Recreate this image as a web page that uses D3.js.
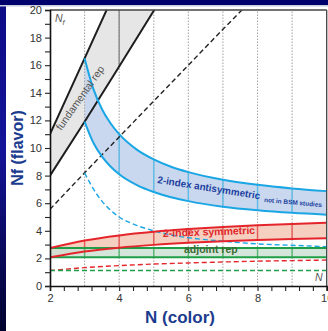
<!DOCTYPE html>
<html><head><meta charset="utf-8">
<script src="https://cdn.jsdelivr.net/npm/d3@7"></script>
<style>html,body{margin:0;padding:0;background:#fff;}svg{display:block;}</style>
</head><body>
<svg id="c" width="328" height="331"></svg>
<script>
// ---- data ----
const gridN = [3, 4, 5, 6, 7, 8, 9];
const xTickLabels = [2, 4, 6, 8, 10];
const yTickLabels = [0, 2, 4, 6, 8, 10, 12, 14, 16, 18, 20];

const fundN = [2, 3, 4, 5, 6];
const fundUpper = [11, 16.5, 22, 27.5, 33];
const fundLower = [8.0, 11.9, 15.9, 19.95, 24];
const fundDashN = [2, 3, 4, 5, 6, 7, 7.55];
const fundDash = [5.56, 8.2, 10.8, 13.4, 16.0, 18.6, 20.0];

const antiN = [3, 3.25, 3.5, 3.75, 4, 4.5, 5, 5.5, 6, 7, 8, 9, 10];
const antiUpper = [16.5, 14.3, 12.83, 11.79, 11, 9.9, 9.17, 8.64, 8.25, 7.7, 7.33, 7.07, 6.875];
const antiLower = [11.91, 10.4, 9.39, 8.66, 8.1, 7.33, 6.81, 6.43, 6.15, 5.75, 5.49, 5.3, 5.16];
const antiDash = [8.2, 7.05, 6.15, 5.5, 5.0, 4.4, 4.0, 3.7, 3.5, 3.25, 3.05, 2.95, 2.85];

const symN = [2, 3, 4, 5, 6, 7, 8, 9, 10];
const symUpper = [2.75, 3.3, 3.667, 3.93, 4.125, 4.28, 4.4, 4.5, 4.583];
const symLower = [2.075, 2.5, 2.78, 2.98, 3.13, 3.24, 3.33, 3.41, 3.47];
const symDash = [1.12, 1.33, 1.48, 1.59, 1.67, 1.74, 1.8, 1.84, 1.88];

const adjN = [2, 10];
const adjUpper = [2.75, 2.75];
const adjLower = [2.075, 2.075];
const adjDash = [1.12, 1.12];

// ---- drawing ----
const svg = d3.select("#c");
const W = 328, H = 331;
const defs = svg.append("defs");
const lg = defs.append("linearGradient").attr("id", "bgL").attr("x1", 0).attr("y1", 0).attr("x2", 0).attr("y2", 1);
lg.append("stop").attr("offset", "0%").attr("stop-color", "#0c0c86");
lg.append("stop").attr("offset", "45%").attr("stop-color", "#14149a");
lg.append("stop").attr("offset", "100%").attr("stop-color", "#02022e");

svg.append("rect").attr("width", W).attr("height", H).attr("fill", "#fff");
svg.append("rect").attr("x", 0).attr("y", 0).attr("width", 6).attr("height", H).attr("fill", "url(#bgL)");
svg.append("rect").attr("x", 0).attr("y", 0).attr("width", W).attr("height", 5).attr("fill", "#00006c");
svg.append("rect").attr("x", 0).attr("y", 5).attr("width", W).attr("height", 1.5).attr("fill", "#c9cbe0");

const x = d3.scaleLinear().domain([2, 10]).range([50, 326.7]);
const y = d3.scaleLinear().domain([0, 20]).range([286, 10]);

defs.append("clipPath").attr("id", "clip").append("rect")
  .attr("x", x(2)).attr("y", y(20)).attr("width", x(10) - x(2)).attr("height", y(0) - y(20));

const g = svg.append("g").attr("clip-path", "url(#clip)");

function zip(ns, a) { return ns.map((n, i) => [n, a[i]]); }
function band(ns, lo, hi) { return ns.map((n, i) => ({n, lo: lo[i], hi: hi[i]})); }

const curve = d3.curveMonotoneX;
const area = d3.area().x(d => x(d.n)).y0(d => y(d.lo)).y1(d => y(d.hi)).curve(curve);
const line = d3.line().x(d => x(d[0])).y(d => y(d[1])).curve(curve);

const bands = [
  {ns: fundN, lo: fundLower, hi: fundUpper, fill: "#e6e6e6", stroke: "#1e1e1e", vstroke: "#8a8a8a", vN: [4, 5, 6, 7, 8, 9]},
  {ns: antiN, lo: antiLower, hi: antiUpper, fill: "#c9d8ee", stroke: "#1aa6e4", vstroke: "#5dbce8", vN: [4, 5, 6, 7, 8, 9]},
  {ns: symN, lo: symLower, hi: symUpper, fill: "#f5cfc0", stroke: "#e4262c", vstroke: "#e85a55", vN: gridN},
  {ns: adjN, lo: adjLower, hi: adjUpper, fill: "#cde0d3", stroke: "#1f9e47", vstroke: "#56b872", vN: gridN}
];

bands.forEach(b => {
  g.append("path").datum(band(b.ns, b.lo, b.hi)).attr("d", area).attr("fill", b.fill).attr("fill-opacity", b === bands[3] ? 0.85 : 1);
});

// dotted grid
g.selectAll("line.grid").data(gridN).join("line")
  .attr("x1", d => x(d)).attr("x2", d => x(d)).attr("y1", y(0)).attr("y2", y(20))
  .attr("stroke", "#a8a8a8").attr("stroke-width", 1.1).attr("stroke-dasharray", "1.5,1.5");

// band verticals
function interp(ns, arr, n) {
  for (let i = 0; i < ns.length - 1; i++) {
    if (n >= ns[i] && n <= ns[i + 1]) {
      const t = (n - ns[i]) / (ns[i + 1] - ns[i]);
      return arr[i] + t * (arr[i + 1] - arr[i]);
    }
  }
  return null;
}
bands.forEach(b => {
  b.vN.forEach(n => {
    const lo = interp(b.ns, b.lo, n), hi = interp(b.ns, b.hi, n);
    if (lo === null || lo >= 20) return;
    g.append("line").attr("x1", x(n)).attr("x2", x(n)).attr("y1", y(lo)).attr("y2", y(Math.min(hi, 20)))
      .attr("stroke", b.vstroke).attr("stroke-width", 1.4);
  });
});

// dashed lines
g.append("path").datum(zip(fundDashN, fundDash)).attr("d", line).attr("fill", "none")
  .attr("stroke", "#222").attr("stroke-width", 1.4).attr("stroke-dasharray", "5,3");
g.append("path").datum(zip(antiN, antiDash)).attr("d", line).attr("fill", "none")
  .attr("stroke", "#1aa6e4").attr("stroke-width", 1.4).attr("stroke-dasharray", "5,3");
g.append("path").datum(zip(symN, symDash)).attr("d", line).attr("fill", "none")
  .attr("stroke", "#e4262c").attr("stroke-width", 1.4).attr("stroke-dasharray", "5,3");
g.append("path").datum(zip(adjN, adjDash)).attr("d", line).attr("fill", "none")
  .attr("stroke", "#1f9e47").attr("stroke-width", 1.4).attr("stroke-dasharray", "5,3");

// solid boundary lines (green first, red on top)
[bands[0], bands[1], bands[3], bands[2]].forEach(b => {
  g.append("path").datum(zip(b.ns, b.hi)).attr("d", line).attr("fill", "none").attr("stroke", b.stroke).attr("stroke-width", 2);
  g.append("path").datum(zip(b.ns, b.lo)).attr("d", line).attr("fill", "none").attr("stroke", b.stroke).attr("stroke-width", 2);
});

// frame
svg.append("line").attr("x1", x(2)).attr("x2", x(10)).attr("y1", y(20)).attr("y2", y(20)).attr("stroke", "#444").attr("stroke-width", 1.3);
svg.append("line").attr("x1", x(10)).attr("x2", x(10)).attr("y1", y(20)).attr("y2", y(0)).attr("stroke", "#444").attr("stroke-width", 1.3);

// axes
const xTicks = d3.range(0, 21).map(i => 2 + 0.4 * i);
const isLab = v => xTickLabels.some(l => Math.abs(l - v) < 1e-6);
const xAxis = d3.axisBottom(x).tickValues(xTicks).tickSize(5).tickPadding(3)
  .tickFormat(v => isLab(v) ? String(Math.round(v)) : "");
const yAxis = d3.axisLeft(y).tickValues(d3.range(0, 21)).tickSize(5).tickPadding(3)
  .tickFormat(v => yTickLabels.includes(v) ? String(v) : "");
const gx = svg.append("g").attr("transform", `translate(0,${y(0)})`).call(xAxis);
const gy = svg.append("g").attr("transform", `translate(${x(2)},0)`).call(yAxis);
[gx, gy].forEach(a => {
  a.select(".domain").attr("stroke", "#111").attr("stroke-width", 1.6);
  a.selectAll(".tick line").attr("stroke", "#222").attr("stroke-width", 1.1);
  a.selectAll(".tick text").attr("fill", "#333").attr("font-size", 11).attr("font-family", "Liberation Sans, Arial, sans-serif");
});

// axis titles
svg.append("text").attr("x", 180).attr("y", 323).attr("text-anchor", "middle")
  .attr("font-family", "Liberation Sans, Arial, sans-serif").attr("font-weight", "bold").attr("font-size", 17)
  .attr("fill", "#1b3c8e").text("N (color)");
svg.append("text").attr("transform", "translate(23,148) rotate(-90)").attr("text-anchor", "middle")
  .attr("font-family", "Liberation Sans, Arial, sans-serif").attr("font-weight", "bold").attr("font-size", 16)
  .attr("fill", "#1b3c8e").text("Nf (flavor)");

// in-plot labels
const nf = svg.append("text").attr("x", 55).attr("y", 22).attr("font-family", "Liberation Sans, Arial, sans-serif")
  .attr("font-size", 10.5).attr("font-style", "italic").attr("fill", "#555");
nf.append("tspan").text("N");
nf.append("tspan").attr("font-size", 7.5).attr("dy", 3).text("f");
svg.append("text").attr("x", 315).attr("y", 281).attr("font-family", "Liberation Sans, Arial, sans-serif")
  .attr("font-size", 10.5).attr("font-style", "italic").attr("fill", "#555").text("N");

svg.append("text").attr("transform", "translate(83,100) rotate(-55)").attr("text-anchor", "middle")
  .attr("font-family", "Liberation Sans, Arial, sans-serif").attr("font-size", 10.5).attr("fill", "#555")
  .text("fundamental  rep");

svg.append("text").attr("transform", "translate(157,183) rotate(9)")
  .attr("font-family", "Liberation Sans, Arial, sans-serif").attr("font-weight", "bold").attr("font-size", 10)
  .attr("fill", "#1d3fa0").attr("textLength", 104).attr("lengthAdjust", "spacingAndGlyphs")
  .text("2-index  antisymmetric");
svg.append("text").attr("transform", "translate(264,202) rotate(5)")
  .attr("font-family", "Liberation Sans, Arial, sans-serif").attr("font-weight", "bold").attr("font-size", 6.5)
  .attr("fill", "#1d3fa0").attr("textLength", 58).attr("lengthAdjust", "spacingAndGlyphs")
  .text("not in BSM studies");

svg.append("text").attr("transform", "translate(163,237) rotate(-2)")
  .attr("font-family", "Liberation Sans, Arial, sans-serif").attr("font-weight", "bold").attr("font-size", 10.5)
  .attr("fill", "#e0262b").text("2-index  symmetric");
svg.append("text").attr("x", 184).attr("y", 253)
  .attr("font-family", "Liberation Sans, Arial, sans-serif").attr("font-weight", "bold").attr("font-size", 10.5)
  .attr("fill", "#3c6b34").text("adjoint rep");
</script>
</body></html>
